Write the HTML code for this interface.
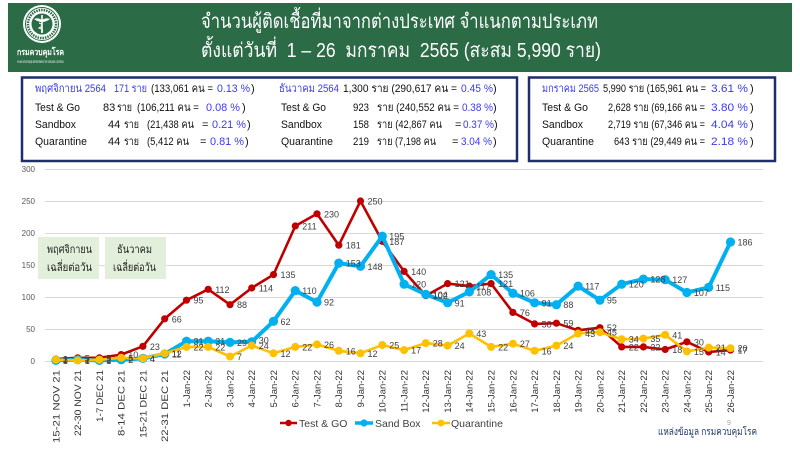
<!DOCTYPE html>
<html><head><meta charset="utf-8">
<style>
html,body{margin:0;padding:0;background:#fff;}
svg{display:block;}
text{font-family:"Liberation Sans","DejaVu Sans",sans-serif;}
.r{font-size:11px;fill:#111;white-space:pre;}
.b{fill:#3a3af0;}
.dl{font-size:9px;fill:#404040;}
.xl{font-size:9.5px;fill:#333;}
.yl{font-size:8px;fill:#595959;}
</style></head>
<body>
<svg width="800" height="450" viewBox="0 0 800 450" xmlns="http://www.w3.org/2000/svg">
<defs>
<marker id="mr" markerUnits="userSpaceOnUse" markerWidth="10" markerHeight="10" refX="5" refY="5"><circle cx="5" cy="5" r="3.6" fill="#c00000"/></marker>
<marker id="mb" markerUnits="userSpaceOnUse" markerWidth="12" markerHeight="12" refX="6" refY="6"><circle cx="6" cy="6" r="4.6" fill="#00b0f0"/></marker>
<marker id="my" markerUnits="userSpaceOnUse" markerWidth="10" markerHeight="10" refX="5" refY="5"><circle cx="5" cy="5" r="4" fill="#ffc000"/></marker>
</defs>

<!-- Header -->
<rect x="8" y="3" width="784" height="69" fill="#2b6b46"/>
<circle cx="42" cy="24" r="19" fill="#fff"/>
<circle cx="42" cy="24" r="16.5" fill="none" stroke="#2b6b46" stroke-width="1"/>
<circle cx="42" cy="24" r="14" fill="none" stroke="#2b6b46" stroke-width="2.5" stroke-dasharray="1.5 1"/>
<circle cx="42" cy="24" r="10.5" fill="#2b6b46"/>
<line x1="42" y1="15" x2="42" y2="33" stroke="#fff" stroke-width="1.6"/>
<path d="M34 19 Q38 17 42 20 Q46 17 50 19 Q46 22 42 22 Q38 22 34 19Z" fill="#fff"/>
<path d="M39 23 Q45 25 39 28 Q45 30 41 32" fill="none" stroke="#fff" stroke-width="1"/>
<text x="17" y="55" font-size="9" font-weight="bold" fill="#fff" textLength="47" lengthAdjust="spacingAndGlyphs">กรมควบคุมโรค</text>
<text x="17" y="63" font-size="4" fill="#fff" textLength="47" lengthAdjust="spacingAndGlyphs">กระทรวงสาธารณสุข DEPARTMENT OF DISEASE CONTROL</text>
<text x="201" y="28" font-size="20" fill="#fff" textLength="397" lengthAdjust="spacingAndGlyphs">จำนวนผู้ติดเชื้อที่มาจากต่างประเทศ จำแนกตามประเภท</text>
<text x="201" y="57" font-size="20" fill="#fff" style="white-space:pre" textLength="400" lengthAdjust="spacingAndGlyphs">ตั้งแต่วันที่  1 – 26  มกราคม  2565 (สะสม 5,990 ราย)</text>

<!-- Info boxes -->
<rect x="22" y="77.5" width="495" height="83.5" fill="#fff" stroke="#1f2d6b" stroke-width="2.5"/>
<rect x="529" y="77.5" width="246" height="83.5" fill="#fff" stroke="#1f2d6b" stroke-width="2.5"/>

<!-- Nov -->
<text class="r b" x="35" y="92" textLength="71" lengthAdjust="spacingAndGlyphs">พฤศจิกายน 2564</text>
<text class="r b" x="114" y="92" textLength="33" lengthAdjust="spacingAndGlyphs">171 ราย</text>
<text class="r" x="151" y="92" textLength="62" lengthAdjust="spacingAndGlyphs">(133,061 คน =</text>
<text class="r b" x="217" y="92" textLength="33" lengthAdjust="spacingAndGlyphs">0.13 %</text>
<text class="r" x="251" y="92">)</text>

<text class="r" x="35" y="111" textLength="45" lengthAdjust="spacingAndGlyphs">Test &amp; Go</text>
<text class="r" x="103" y="111">83</text>
<text class="r" x="117" y="111" textLength="15" lengthAdjust="spacingAndGlyphs">ราย</text>
<text class="r" x="137" y="111" textLength="62" lengthAdjust="spacingAndGlyphs">(106,211 คน =</text>
<text class="r b" x="206" y="111" textLength="34" lengthAdjust="spacingAndGlyphs">0.08 %</text>
<text class="r" x="242" y="111">)</text>

<text class="r" x="35" y="128" textLength="41" lengthAdjust="spacingAndGlyphs">Sandbox</text>
<text class="r" x="108" y="128">44</text>
<text class="r" x="124" y="128" textLength="15" lengthAdjust="spacingAndGlyphs">ราย</text>
<text class="r" x="147" y="128" textLength="47" lengthAdjust="spacingAndGlyphs">(21,438 คน</text>
<text class="r" x="202" y="128">=</text>
<text class="r b" x="212" y="128" textLength="34" lengthAdjust="spacingAndGlyphs">0.21 %</text>
<text class="r" x="247" y="128">)</text>

<text class="r" x="35" y="145" textLength="52" lengthAdjust="spacingAndGlyphs">Quarantine</text>
<text class="r" x="108" y="145">44</text>
<text class="r" x="124" y="145" textLength="15" lengthAdjust="spacingAndGlyphs">ราย</text>
<text class="r" x="147" y="145" textLength="42" lengthAdjust="spacingAndGlyphs">(5,412 คน</text>
<text class="r" x="200" y="145">=</text>
<text class="r b" x="210" y="145" textLength="34" lengthAdjust="spacingAndGlyphs">0.81 %</text>
<text class="r" x="245" y="145">)</text>

<!-- Dec -->
<text class="r b" x="279" y="92" textLength="60" lengthAdjust="spacingAndGlyphs">ธันวาคม 2564</text>
<text class="r" x="343" y="92" textLength="114" lengthAdjust="spacingAndGlyphs">1,300 ราย (290,617 คน =</text>
<text class="r b" x="461" y="92" textLength="32" lengthAdjust="spacingAndGlyphs">0.45 %</text>
<text class="r" x="493" y="92">)</text>

<text class="r" x="281" y="111" textLength="45" lengthAdjust="spacingAndGlyphs">Test &amp; Go</text>
<text class="r" x="353" y="111" textLength="16" lengthAdjust="spacingAndGlyphs">923</text>
<text class="r" x="377" y="111" textLength="82" lengthAdjust="spacingAndGlyphs">ราย (240,552 คน =</text>
<text class="r b" x="462" y="111" textLength="31" lengthAdjust="spacingAndGlyphs">0.38 %</text>
<text class="r" x="493" y="111">)</text>

<text class="r" x="281" y="128" textLength="41" lengthAdjust="spacingAndGlyphs">Sandbox</text>
<text class="r" x="353" y="128" textLength="16" lengthAdjust="spacingAndGlyphs">158</text>
<text class="r" x="377" y="128" textLength="65" lengthAdjust="spacingAndGlyphs">ราย (42,867 คน</text>
<text class="r" x="455" y="128">=</text>
<text class="r b" x="463" y="128" textLength="31" lengthAdjust="spacingAndGlyphs">0.37 %</text>
<text class="r" x="494" y="128">)</text>

<text class="r" x="281" y="145" textLength="52" lengthAdjust="spacingAndGlyphs">Quarantine</text>
<text class="r" x="353" y="145" textLength="16" lengthAdjust="spacingAndGlyphs">219</text>
<text class="r" x="377" y="145" textLength="59" lengthAdjust="spacingAndGlyphs">ราย (7,198 คน</text>
<text class="r" x="452" y="145">=</text>
<text class="r b" x="461" y="145" textLength="31" lengthAdjust="spacingAndGlyphs">3.04 %</text>
<text class="r" x="493" y="145">)</text>

<!-- Jan -->
<text class="r b" x="542" y="92" textLength="57" lengthAdjust="spacingAndGlyphs">มกราคม 2565</text>
<text class="r" x="603" y="92" textLength="103" lengthAdjust="spacingAndGlyphs">5,990 ราย (165,961 คน =</text>
<text class="r b" x="711" y="92" textLength="37" lengthAdjust="spacingAndGlyphs">3.61 %</text>
<text class="r" x="750" y="92">)</text>

<text class="r" x="542" y="111" textLength="46" lengthAdjust="spacingAndGlyphs">Test &amp; Go</text>
<text class="r" x="608" y="111" textLength="97" lengthAdjust="spacingAndGlyphs">2,628 ราย (69,166 คน =</text>
<text class="r b" x="711" y="111" textLength="37" lengthAdjust="spacingAndGlyphs">3.80 %</text>
<text class="r" x="750" y="111">)</text>

<text class="r" x="542" y="128" textLength="41" lengthAdjust="spacingAndGlyphs">Sandbox</text>
<text class="r" x="608" y="128" textLength="97" lengthAdjust="spacingAndGlyphs">2,719 ราย (67,346 คน =</text>
<text class="r b" x="711" y="128" textLength="37" lengthAdjust="spacingAndGlyphs">4.04 %</text>
<text class="r" x="750" y="128">)</text>

<text class="r" x="542" y="145" textLength="52" lengthAdjust="spacingAndGlyphs">Quarantine</text>
<text class="r" x="614" y="145" textLength="91" lengthAdjust="spacingAndGlyphs">643 ราย (29,449 คน =</text>
<text class="r b" x="711" y="145" textLength="37" lengthAdjust="spacingAndGlyphs">2.18 %</text>
<text class="r" x="750" y="145">)</text>

<!-- Gridlines -->
<g stroke="#d9d9d9" stroke-width="1">
<line x1="45" y1="169.5" x2="763" y2="169.5"/>
<line x1="45" y1="201.5" x2="763" y2="201.5"/>
<line x1="45" y1="233.5" x2="763" y2="233.5"/>
<line x1="45" y1="265.5" x2="763" y2="265.5"/>
<line x1="45" y1="297.5" x2="763" y2="297.5"/>
<line x1="45" y1="329.5" x2="763" y2="329.5"/>
<line x1="45" y1="361.5" x2="763" y2="361.5"/>
</g>
<g class="yl" text-anchor="end">
<text x="35" y="172">300</text>
<text x="35" y="204">250</text>
<text x="35" y="236">200</text>
<text x="35" y="268">150</text>
<text x="35" y="300">100</text>
<text x="35" y="332">50</text>
<text x="35" y="364">0</text>
</g>

<!-- Annotation boxes -->
<rect x="38" y="237" width="61" height="42" fill="#e2efda"/>
<rect x="105" y="237" width="61" height="42" fill="#e2efda"/>
<text x="47" y="253" font-size="11" fill="#1a1a1a" textLength="45" lengthAdjust="spacingAndGlyphs">พฤศจิกายน</text>
<text x="47" y="271" font-size="11" fill="#1a1a1a" textLength="45" lengthAdjust="spacingAndGlyphs">เฉลี่ยต่อวัน</text>
<text x="117" y="253" font-size="11" fill="#1a1a1a" textLength="35" lengthAdjust="spacingAndGlyphs">ธันวาคม</text>
<text x="113" y="271" font-size="11" fill="#1a1a1a" textLength="43" lengthAdjust="spacingAndGlyphs">เฉลี่ยต่อวัน</text>

<!-- Series -->
<polyline fill="none" stroke="#c00000" stroke-width="2.6" stroke-linejoin="round" marker-start="url(#mr)" marker-mid="url(#mr)" marker-end="url(#mr)" points="55.9,359.1 77.7,357.8 99.4,357.8 121.2,354.6 142.9,346.3 164.7,318.8 186.5,300.2 208.2,289.3 230,304.7 251.7,288 273.5,274.6 295.3,226 317,213.8 338.8,245.2 360.5,201 382.3,241.3 404.1,271.4 425.8,295.7 447.6,283.6 469.3,286.1 491.1,283.6 512.9,312.4 534.6,323.9 556.4,323.2 578.1,330.3 599.9,327.7 621.7,346.9 643.4,346.9 665.2,349.5 686.9,341.8 708.7,352 730.5,350.1"/>
<polyline fill="none" stroke="#00b0f0" stroke-width="4" stroke-linejoin="round" marker-start="url(#mb)" marker-mid="url(#mb)" marker-end="url(#mb)" points="55.9,360.4 77.7,359.7 99.4,360.4 121.2,359.7 142.9,358.4 164.7,354 186.5,341.2 208.2,341.2 230,342.4 251.7,341.8 273.5,321.3 295.3,290.6 317,302.1 338.8,263.1 360.5,266.3 382.3,236.2 404.1,284.2 425.8,294.4 447.6,302.8 469.3,291.9 491.1,274.6 512.9,293.2 534.6,302.8 556.4,304.7 578.1,286.1 599.9,300.2 621.7,284.2 643.4,279.1 665.2,279.7 686.9,292.5 708.7,287.4 730.5,242"/>
<polyline fill="none" stroke="#ffc000" stroke-width="2.6" stroke-linejoin="round" marker-start="url(#my)" marker-mid="url(#my)" marker-end="url(#my)" points="55.9,359.7 77.7,360.4 99.4,359.7 121.2,357.8 142.9,358.4 164.7,353.3 186.5,346.9 208.2,346.9 230,356.5 251.7,345.6 273.5,353.3 295.3,346.9 317,344.4 338.8,350.8 360.5,353.3 382.3,345 404.1,350.1 425.8,343.1 447.6,345.6 469.3,333.5 491.1,346.9 512.9,343.7 534.6,350.8 556.4,345.6 578.1,333.5 599.9,332.2 621.7,339.2 643.4,338.6 665.2,334.8 686.9,351.4 708.7,347.6 730.5,348.2"/>

<!-- Data labels: red -->
<g class="dl">
<text x="62.9" y="362.6">3</text><text x="84.7" y="361.3">5</text><text x="106.4" y="361.3">5</text><text x="128.2" y="358.1">10</text><text x="149.9" y="349.8">23</text><text x="171.7" y="322.3">66</text><text x="193.5" y="303.7">95</text><text x="215.2" y="292.8">112</text><text x="237" y="308.2">88</text><text x="258.7" y="291.5">114</text><text x="280.5" y="278.1">135</text><text x="302.3" y="229.5">211</text><text x="324" y="217.3">230</text><text x="345.8" y="248.7">181</text><text x="367.5" y="204.5">250</text><text x="389.3" y="244.8">187</text><text x="411.1" y="274.9">140</text><text x="432.8" y="299.2">102</text><text x="454.6" y="287.1">121</text><text x="476.3" y="289.6">117</text><text x="498.1" y="287.1">121</text><text x="519.9" y="315.9">76</text><text x="541.6" y="327.4">58</text><text x="563.4" y="326.7">59</text><text x="585.1" y="333.8">48</text><text x="606.9" y="331.2">52</text><text x="628.7" y="350.4">22</text><text x="650.4" y="350.4">22</text><text x="672.2" y="353">18</text><text x="693.9" y="345.3">30</text><text x="715.7" y="355.5">14</text><text x="737.5" y="353.6">17</text>
</g>
<!-- Data labels: blue -->
<g class="dl">
<text x="62.9" y="363.9">1</text><text x="84.7" y="363.2">2</text><text x="106.4" y="363.9">1</text><text x="128.2" y="363.2">2</text><text x="149.9" y="361.9">4</text><text x="171.7" y="357.5">11</text><text x="193.5" y="344.7">31</text><text x="215.2" y="344.7">31</text><text x="237" y="345.9">29</text><text x="258.7" y="343.3">30</text><text x="280.5" y="324.8">62</text><text x="302.3" y="294.1">110</text><text x="324" y="305.6">92</text><text x="345.8" y="266.6">153</text><text x="367.5" y="269.8">148</text><text x="389.3" y="239.7">195</text><text x="411.1" y="287.7">120</text><text x="432.8" y="297.9">104</text><text x="454.6" y="306.3">91</text><text x="476.3" y="295.4">108</text><text x="498.1" y="278.1">135</text><text x="519.9" y="296.7">106</text><text x="541.6" y="306.3">91</text><text x="563.4" y="308.2">88</text><text x="585.1" y="289.6">117</text><text x="606.9" y="303.7">95</text><text x="628.7" y="287.7">120</text><text x="650.4" y="282.6">128</text><text x="672.2" y="283.2">127</text><text x="693.9" y="296">107</text><text x="715.7" y="290.9">115</text><text x="737.5" y="245.5">186</text>
</g>
<!-- Data labels: yellow -->
<g class="dl">
<text x="62.9" y="363.2">2</text><text x="84.7" y="363.9">1</text><text x="106.4" y="363.2">2</text><text x="128.2" y="361.3">5</text><text x="149.9" y="361.9">4</text><text x="171.7" y="356.8">12</text><text x="193.5" y="350.4">22</text><text x="215.2" y="350.4">22</text><text x="237" y="360">7</text><text x="258.7" y="349.1">24</text><text x="280.5" y="356.8">12</text><text x="302.3" y="350.4">22</text><text x="324" y="347.9">26</text><text x="345.8" y="354.3">16</text><text x="367.5" y="356.8">12</text><text x="389.3" y="348.5">25</text><text x="411.1" y="353.6">17</text><text x="432.8" y="346.6">28</text><text x="454.6" y="349.1">24</text><text x="476.3" y="337">43</text><text x="498.1" y="350.4">22</text><text x="519.9" y="347.2">27</text><text x="541.6" y="354.3">16</text><text x="563.4" y="349.1">24</text><text x="585.1" y="337">43</text><text x="606.9" y="335.7">45</text><text x="628.7" y="342.7">34</text><text x="650.4" y="342.1">35</text><text x="672.2" y="338.3">41</text><text x="693.9" y="354.9">15</text><text x="715.7" y="351.1">21</text><text x="737.5" y="351.7">20</text>
</g>

<!-- X axis labels -->
<g class="xl" text-anchor="end">
<text x="59.3" y="370" transform="rotate(-90 59.3 370)" textLength="73" lengthAdjust="spacingAndGlyphs">15-21 NOV 21</text>
<text x="81.1" y="370" transform="rotate(-90 81.1 370)" textLength="66" lengthAdjust="spacingAndGlyphs">22-30 NOV 21</text>
<text x="102.8" y="370" transform="rotate(-90 102.8 370)" textLength="52" lengthAdjust="spacingAndGlyphs">1-7 DEC 21</text>
<text x="124.6" y="370" transform="rotate(-90 124.6 370)" textLength="66" lengthAdjust="spacingAndGlyphs">8-14 DEC 21</text>
<text x="146.3" y="370" transform="rotate(-90 146.3 370)" textLength="68" lengthAdjust="spacingAndGlyphs">15-21 DEC 21</text>
<text x="168.1" y="370" transform="rotate(-90 168.1 370)" textLength="72" lengthAdjust="spacingAndGlyphs">22-31 DEC 21</text>
<text x="189.9" y="370" transform="rotate(-90 189.9 370)">1-Jan-22</text>
<text x="211.6" y="370" transform="rotate(-90 211.6 370)">2-Jan-22</text>
<text x="233.4" y="370" transform="rotate(-90 233.4 370)">3-Jan-22</text>
<text x="255.1" y="370" transform="rotate(-90 255.1 370)">4-Jan-22</text>
<text x="276.9" y="370" transform="rotate(-90 276.9 370)">5-Jan-22</text>
<text x="298.7" y="370" transform="rotate(-90 298.7 370)">6-Jan-22</text>
<text x="320.4" y="370" transform="rotate(-90 320.4 370)">7-Jan-22</text>
<text x="342.2" y="370" transform="rotate(-90 342.2 370)">8-Jan-22</text>
<text x="363.9" y="370" transform="rotate(-90 363.9 370)">9-Jan-22</text>
<text x="385.7" y="370" transform="rotate(-90 385.7 370)">10-Jan-22</text>
<text x="407.5" y="370" transform="rotate(-90 407.5 370)">11-Jan-22</text>
<text x="429.2" y="370" transform="rotate(-90 429.2 370)">12-Jan-22</text>
<text x="451" y="370" transform="rotate(-90 451 370)">13-Jan-22</text>
<text x="472.7" y="370" transform="rotate(-90 472.7 370)">14-Jan-22</text>
<text x="494.5" y="370" transform="rotate(-90 494.5 370)">15-Jan-22</text>
<text x="516.3" y="370" transform="rotate(-90 516.3 370)">16-Jan-22</text>
<text x="538" y="370" transform="rotate(-90 538 370)">17-Jan-22</text>
<text x="559.8" y="370" transform="rotate(-90 559.8 370)">18-Jan-22</text>
<text x="581.5" y="370" transform="rotate(-90 581.5 370)">19-Jan-22</text>
<text x="603.3" y="370" transform="rotate(-90 603.3 370)">20-Jan-22</text>
<text x="625.1" y="370" transform="rotate(-90 625.1 370)">21-Jan-22</text>
<text x="646.8" y="370" transform="rotate(-90 646.8 370)">22-Jan-22</text>
<text x="668.6" y="370" transform="rotate(-90 668.6 370)">23-Jan-22</text>
<text x="690.3" y="370" transform="rotate(-90 690.3 370)">24-Jan-22</text>
<text x="712.1" y="370" transform="rotate(-90 712.1 370)">25-Jan-22</text>
<text x="733.9" y="370" transform="rotate(-90 733.9 370)">26-Jan-22</text>
</g>

<!-- Legend -->
<line x1="280" y1="423" x2="297" y2="423" stroke="#c00000" stroke-width="2.6"/>
<circle cx="288.5" cy="423" r="3.2" fill="#c00000"/>
<text x="299" y="427" font-size="10.5" fill="#404040">Test &amp; GO</text>
<line x1="355" y1="423" x2="373" y2="423" stroke="#00b0f0" stroke-width="3.5"/>
<circle cx="364" cy="423" r="3.6" fill="#00b0f0"/>
<text x="375" y="427" font-size="10.5" fill="#404040">Sand Box</text>
<line x1="432" y1="423" x2="450" y2="423" stroke="#ffc000" stroke-width="2.6"/>
<circle cx="441" cy="423" r="3.4" fill="#ffc000"/>
<text x="451" y="427" font-size="10.5" fill="#404040">Quarantine</text>

<!-- Footer -->
<text x="727" y="425" font-size="7" fill="#a6a6a6">9</text>
<text x="658" y="435" font-size="10" fill="#1f3864" textLength="99" lengthAdjust="spacingAndGlyphs">แหล่งข้อมูล กรมควบคุมโรค</text>
</svg>
</body></html>
